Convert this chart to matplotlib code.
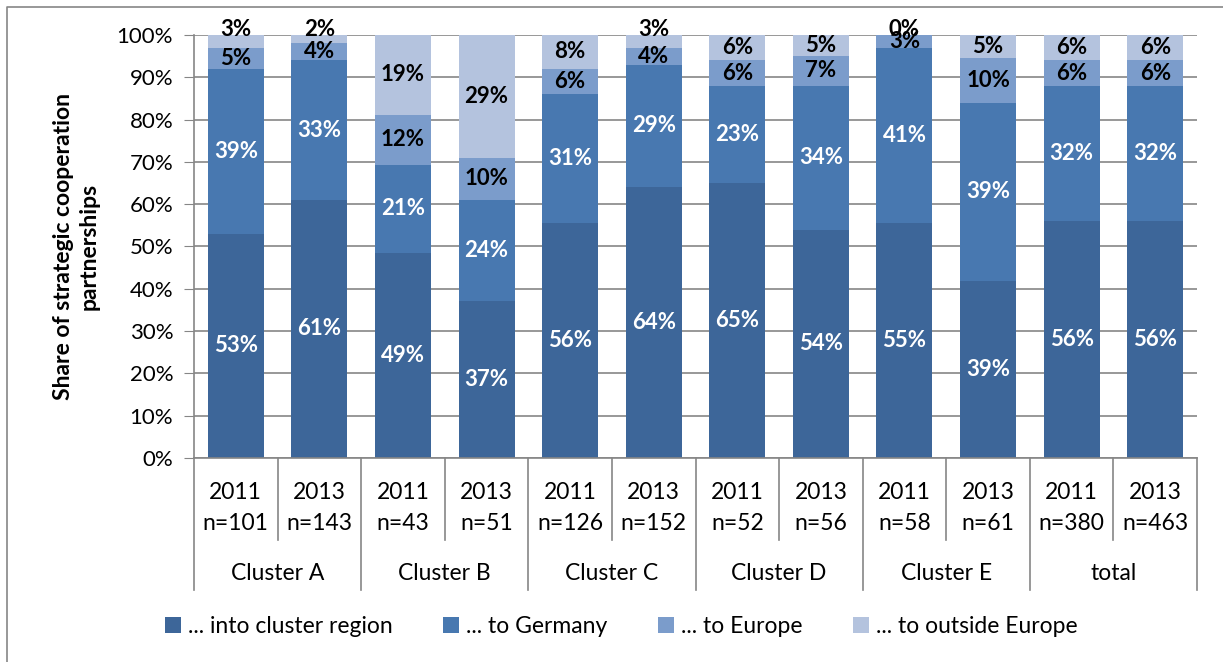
import numpy as np
import matplotlib
matplotlib.use("Agg")
import matplotlib.pyplot as plt
from matplotlib.patches import Patch
from matplotlib.lines import Line2D
from matplotlib.ticker import PercentFormatter

plt.rcParams["font.family"] = ["Lato", "DejaVu Sans"]

clusters = ["Cluster A", "Cluster B", "Cluster C", "Cluster D", "Cluster E", "total"]
years = ["2011", "2013"] * 6
n_values = [101, 143, 43, 51, 126, 152, 52, 56, 58, 61, 380, 463]

# shares as printed on the bars (Excel 100% stacked, so each bar is normalised)
region = [53, 61, 49, 37, 56, 64, 65, 54, 55, 39, 56, 56]
germany = [39, 33, 21, 24, 31, 29, 23, 34, 41, 39, 32, 32]
europe = [5, 4, 12, 10, 6, 4, 6, 7, 3, 10, 6, 6]
outside = [3, 2, 19, 29, 8, 3, 6, 5, 0, 5, 6, 6]

series_names = ["... into cluster region", "... to Germany", "... to Europe", "... to outside Europe"]
colors = ["#3D6699", "#4878B0", "#7B9CCB", "#B4C3DE"]
text_colors = ["white", "white", "black", "black"]

fig = plt.figure(figsize=(12.23, 6.62), dpi=100)
ax = fig.add_axes([194 / 1223, 1 - 458 / 662, (1197 - 194) / 1223, (458 - 35) / 662])

data = np.array([region, germany, europe, outside], dtype=float)
totals = data.sum(axis=0)
shares = data / totals * 100
x = np.arange(len(years))
bottom = np.zeros(len(years))
for k, (vals, raw, name, col, tcol) in enumerate(zip(shares, data, series_names, colors, text_colors)):
    ax.bar(x, vals, bottom=bottom, width=0.67, color=col, label=name, zorder=2)
    for xi, v, b, r in zip(x, vals, bottom, raw):
        y = b + v / 2
        if k == 3 and v < 4:
            y = 101.2  # tiny top segments: label sits just above the bar
        ax.text(xi, y, f"{r:.0f}%", ha="center", va="center",
                color=tcol, fontsize=16, fontweight="bold", zorder=3)
    bottom += vals

ax.set_xlim(-0.5, len(years) - 0.5)
ax.set_ylim(0, 100)
ax.set_yticks(np.arange(0, 101, 10))
ax.yaxis.set_major_formatter(PercentFormatter(decimals=0))
ax.tick_params(axis="y", labelsize=16, length=7, color="#868686", pad=8)
ax.set_xticks([])
ax.grid(axis="y", color="#868686", linewidth=1.2, zorder=0)
for s in ["top", "right"]:
    ax.spines[s].set_visible(False)
for s in ["left", "bottom"]:
    ax.spines[s].set_color("#868686")
    ax.spines[s].set_linewidth(1.2)
ax.set_ylabel("Share of strategic cooperation\npartnerships", fontsize=16.5,
              fontweight="bold", labelpad=12, linespacing=1.3)

# category table under the axis
trans = ax.get_xaxis_transform()
for xi, yr, n in zip(x, years, n_values):
    ax.text(xi, -0.118, f"{yr}\nn={n}", transform=trans, ha="center", va="center",
            fontsize=16.5, linespacing=1.55)
for i, name in enumerate(clusters):
    ax.text(2 * i + 0.5, -0.272, name, transform=trans, ha="center", va="center", fontsize=16.5)
for i in range(len(years) + 1):
    b = -0.5 + i
    y_end = -0.312 if i % 2 == 0 else -0.194
    ax.plot([b, b], [0, y_end], transform=trans, color="#868686", linewidth=1.2, clip_on=False)

handles = [Patch(facecolor=c) for c in colors]
fig.legend(handles, series_names, loc="center", bbox_to_anchor=(0.508, 0.053), ncol=4,
           frameon=False, fontsize=16.5, handlelength=0.7, handleheight=0.7,
           handletextpad=0.3, columnspacing=2.2)

# chart area border (only top and left edges are inside the picture)
fig.lines.append(Line2D([7 / 1223, 7 / 1223, 1], [0, 1 - 7 / 662, 1 - 7 / 662],
                        transform=fig.transFigure, color="#868686", linewidth=1.2))

fig.savefig("out.png", dpi=100)
